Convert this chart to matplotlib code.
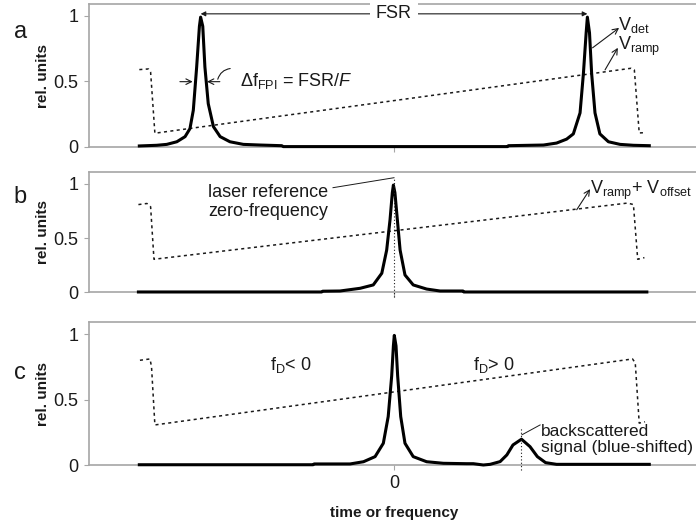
import matplotlib
matplotlib.use("Agg")
import matplotlib.pyplot as plt

plt.rcParams["font.family"] = ["Liberation Sans", "DejaVu Sans"]
plt.rcParams["mathtext.fontset"] = "custom"
plt.rcParams["mathtext.rm"] = "Liberation Sans"
plt.rcParams["mathtext.it"] = "Liberation Sans:italic"

# detector signal, panel a (two FPI transmission peaks)
xa = [-0.835, -0.778, -0.745, -0.712, -0.685, -0.669, -0.658, -0.647, -0.638, -0.634,
      -0.627, -0.620, -0.609, -0.592, -0.570, -0.538, -0.494, -0.439, -0.368, -0.363,
      0.372, 0.375, 0.49, 0.533, 0.566, 0.588, 0.61, 0.621, 0.630, 0.634,
      0.641, 0.648, 0.659, 0.675, 0.703, 0.741, 0.785, 0.837]
va = [0.008, 0.013, 0.02, 0.04, 0.079, 0.14, 0.28, 0.61, 0.92, 0.99,
      0.92, 0.61, 0.33, 0.155, 0.079, 0.04, 0.02, 0.015, 0.01, 0.003,
      0.003, 0.01, 0.015, 0.03, 0.06, 0.10, 0.26, 0.56, 0.87, 0.99,
      0.87, 0.56, 0.26, 0.10, 0.04, 0.02, 0.013, 0.01]

# detector signal, panel b (laser reference)
xb = [-0.838, -0.237, -0.234, -0.177, -0.111, -0.068, -0.040, -0.024, -0.013, -0.0055,
      -0.002, 0.003, 0.011, 0.020, 0.036, 0.063, 0.107, 0.151, 0.226, 0.229, 0.829]
vb = [0.003, 0.003, 0.01, 0.012, 0.037, 0.068, 0.176, 0.39, 0.67, 0.92,
      0.99, 0.92, 0.67, 0.39, 0.16, 0.068, 0.03, 0.012, 0.012, 0.003, 0.003]

# detector signal, panel c (reference + backscattered signal)
xc = [-0.835, -0.265, -0.262, -0.144, -0.10, -0.062, -0.035, -0.019, -0.0076, -0.002,
      0.001, 0.0066, 0.012, 0.022, 0.036, 0.063, 0.107, 0.162, 0.238, 0.26,
      0.293, 0.315, 0.348, 0.37, 0.39, 0.418, 0.446, 0.47, 0.497, 0.533, 0.837]
vc = [0.002, 0.002, 0.008, 0.008, 0.025, 0.064, 0.166, 0.37, 0.68, 0.91,
      0.99, 0.91, 0.68, 0.37, 0.166, 0.064, 0.025, 0.013, 0.01, 0.01,
      0.0, 0.005, 0.026, 0.077, 0.153, 0.197, 0.14, 0.064, 0.018, 0.005, 0.005]

# ramp voltages
ra_x = [-0.835, -0.805, -0.798, -0.784, 0.777, 0.788, 0.804, 0.826]
ra_v = [0.59, 0.595, 0.57, 0.105, 0.60, 0.588, 0.107, 0.11]
rb_x = [-0.838, -0.81, -0.798, -0.787, 0.766, 0.785, 0.799, 0.821]
rb_v = [0.81, 0.82, 0.79, 0.305, 0.824, 0.81, 0.305, 0.32]
rc_x = [-0.833, -0.80, -0.795, -0.784, 0.782, 0.791, 0.804, 0.823]
rc_v = [0.80, 0.81, 0.75, 0.306, 0.81, 0.78, 0.32, 0.33]

yticks = [0, 0.5, 1]
ytick_labels = ["0", "0.5", "1"]

GREY = "#a6a6a6"
TXT = "#1a1a1a"

fig = plt.figure(figsize=(6.96, 5.28), dpi=100)
left, width = 89 / 696, 610 / 696
ax_a = fig.add_axes([left, 1 - 147 / 528, width, 143 / 528])
ax_b = fig.add_axes([left, 1 - 292.3 / 528, width, 120 / 528])
ax_c = fig.add_axes([left, 1 - 465 / 528, width, 142.7 / 528])


def style(ax, top, ticklabel):
    ax.set_xlim(-1, 1)
    ax.set_ylim(0, top)
    for s in ["top", "bottom", "left", "right"]:
        ax.spines[s].set_color(GREY)
        ax.spines[s].set_linewidth(1.2)
    ax.set_yticks(yticks)
    ax.set_yticklabels(ytick_labels)
    ax.set_xticks([0])
    ax.set_xticklabels(["0"] if ticklabel else [""])
    ax.tick_params(axis="both", direction="out", length=3.5, color=GREY,
                   labelsize=13, labelcolor=TXT, pad=4)
    ax.set_ylabel("rel. units", fontsize=11, fontweight="bold", color=TXT)
    ax.yaxis.set_label_coords(-0.064, 0.5)


for ax, (x, v), (rx, rv), top, lab in [
        (ax_a, (xa, va), (ra_x, ra_v), 1.09, False),
        (ax_b, (xb, vb), (rb_x, rb_v), 1.108, False),
        (ax_c, (xc, vc), (rc_x, rc_v), 1.09, True)]:
    style(ax, top, lab)
    ax.plot(rx, rv, color=TXT, lw=1.1, linestyle=(0, (2, 2.2)), zorder=3)
    ax.plot(x, v, color="black", lw=2.2, solid_joinstyle="round", clip_on=False,
            zorder=4)

arrow_kw = dict(arrowstyle="->", color=TXT, lw=0.8, shrinkA=0, shrinkB=0)

# panel a annotations
ax_a.annotate("", xy=(-0.634, 1.015), xytext=(0.634, 1.015),
              arrowprops=dict(arrowstyle="<|-|>", color=TXT, lw=0.8,
                              mutation_scale=7, shrinkA=0, shrinkB=0))
ax_a.text(0, 1.015, "FSR", fontsize=13, color=TXT, ha="center", va="center",
          bbox=dict(facecolor="white", edgecolor="none", pad=4))
ax_a.annotate("", xy=(-0.660, 0.498), xytext=(-0.702, 0.498), arrowprops=arrow_kw)
ax_a.annotate("", xy=(-0.613, 0.498), xytext=(-0.571, 0.498), arrowprops=arrow_kw)
ax_a.annotate("", xy=(-0.580, 0.496), xytext=(-0.528, 0.60),
              arrowprops=dict(arrowstyle="-", color=TXT, lw=0.8,
                              connectionstyle="arc3,rad=0.4"))
ax_a.text(-0.505, 0.50, r"$\Delta$f$_{\mathrm{FPI}}$ = FSR/$\mathit{F}$",
          fontsize=13, color=TXT, va="center")
ax_a.annotate("", xy=(0.738, 0.908), xytext=(0.651, 0.756), arrowprops=arrow_kw)
ax_a.text(0.735, 0.93, r"V$_{\mathrm{det}}$", fontsize=13, color=TXT, va="center")
ax_a.annotate("", xy=(0.734, 0.756), xytext=(0.692, 0.588), arrowprops=arrow_kw)
ax_a.text(0.735, 0.77, r"V$_{\mathrm{ramp}}$", fontsize=13, color=TXT, va="center")

# panel b annotations
ax_b.plot([0, 0], [-0.04, 1.058], color=TXT, lw=0.8, linestyle=(0, (1, 2)),
          clip_on=False, zorder=5)
ax_b.plot([-0.2, 0], [0.966, 1.058], color=TXT, lw=0.7)
ax_b.text(-0.61, 0.83, "laser reference\nzero-frequency", fontsize=13, color=TXT,
          va="center", linespacing=1.15)
ax_b.annotate("", xy=(0.643, 0.953), xytext=(0.599, 0.762), arrowprops=arrow_kw)
ax_b.text(0.643, 0.94, r"V$_{\mathrm{ramp}}$+ V$_{\mathrm{offset}}$", fontsize=13,
          color=TXT, va="center")

# panel c annotations
ax_c.text(-0.337, 0.765, r"f$_{\mathrm{D}}$< 0", fontsize=13, color=TXT,
          ha="center", va="center")
ax_c.text(0.328, 0.765, r"f$_{\mathrm{D}}$> 0", fontsize=13, color=TXT,
          ha="center", va="center")
ax_c.plot([0.418, 0.418], [-0.04, 0.283], color=TXT, lw=0.8, linestyle=(0, (1, 2)),
          clip_on=False, zorder=5)
ax_c.plot([0.419, 0.479], [0.23, 0.306], color=TXT, lw=0.7)
ax_c.text(0.481, 0.195, "backscattered\nsignal (blue-shifted)", fontsize=12.5,
          color=TXT, va="center", linespacing=1.15)
ax_c.set_xlabel("time or frequency", fontsize=11, fontweight="bold", color=TXT,
                labelpad=10)

fig.text(0.029, 0.939, "a", fontsize=17, color=TXT, ha="center", va="center")
fig.text(0.029, 0.627, "b", fontsize=17, color=TXT, ha="center", va="center")
fig.text(0.029, 0.294, "c", fontsize=17, color=TXT, ha="center", va="center")

fig.savefig("out.png", dpi=100)
